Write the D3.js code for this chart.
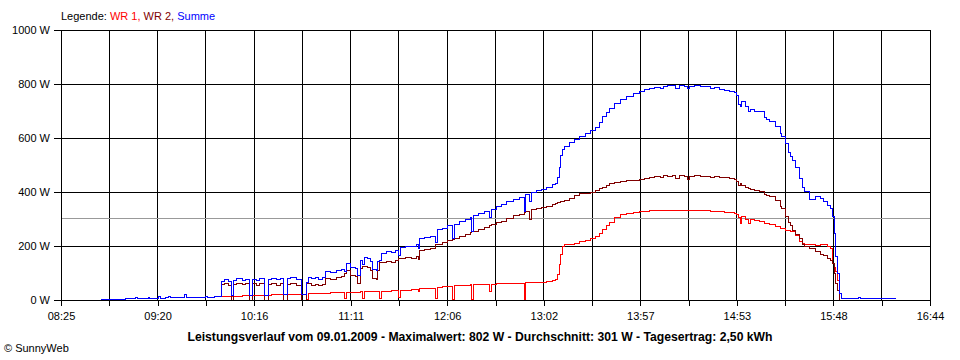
<!DOCTYPE html>
<html><head><meta charset="utf-8">
<script src="https://cdn.jsdelivr.net/npm/d3@7"></script>
<style>body{margin:0;background:#fff}svg{display:block}</style>
</head><body><svg id="c" width="960" height="360"></svg>
<script>
// ---- data ----
const times = ["08:48","08:53","08:58","09:02","09:06","09:08","09:09","09:13","09:15","09:16","09:19","09:21","09:22","09:25","09:27","09:28","09:32","09:36","09:37","09:41","09:45","09:48","09:49","09:53",
"09:57","09:59","10:01","10:03","10:04","10:06","10:09","10:11","10:13","10:15","10:17","10:19","10:22","10:24","10:26","10:29","10:31","10:33","10:35","10:37","10:40","10:43","10:46","10:47","10:49","10:51","10:53","10:55","10:57",
"11:00","11:03","11:06","11:08","11:09","11:11","11:14","11:15","11:17","11:18","11:19","11:21","11:23","11:24","11:26","11:27","11:28","11:29","11:32","11:35","11:37","11:39","11:40","11:43","11:46","11:49","11:50","11:51","11:54","11:57",
"12:00","12:01","12:04","12:07","12:10","12:11","12:14","12:17","12:20","12:21","12:22","12:25","12:28","12:31","12:32","12:35","12:38","12:41","12:45","12:48","12:51","12:52","12:54","12:55","12:58",
"13:01","13:04","13:07","13:09","13:10","13:11","13:12","13:13","13:14","13:17","13:20","13:23","13:26","13:29","13:32","13:34","13:36","13:38","13:40","13:43","13:46","13:50","13:54","13:57",
"14:00","14:03","14:06","14:09","14:11","14:13","14:16","14:18","14:20","14:23","14:25","14:26","14:29","14:32","14:35","14:38","14:40","14:43","14:46","14:49","14:52","14:53","14:54","14:55","14:56","14:58",
"15:00","15:01","15:03","15:06","15:09","15:10","15:12","15:15","15:18","15:19","15:21","15:23","15:24","15:25","15:27","15:29","15:31","15:32","15:35","15:38","15:41","15:43","15:45","15:47","15:48","15:49","15:50","15:51","15:52","15:53","15:57",
"16:00","16:03","16:04","16:08","16:10","16:14","16:18","16:22","16:24"];

const wr1 = [2,3,3,4,5,9,5,6,11,6,7,13,7,8,12,8,9,22,10,10,11,14,11,12,
12,12,13,13,14,14,15,15,16,16,17,17,18,18,19,19,20,20,21,21,22,22,3,23,23,24,24,25,25,
26,27,27,5,28,28,29,29,30,4,30,31,31,31,32,32,6,32,33,34,35,8,36,37,38,39,30,42,43,44,
6,47,49,51,2,52,54,55,56,2,57,58,58,30,59,60,61,61,62,62,3,63,64,64,65,
66,68,72,77,93,130,170,200,204,207,211,216,222,228,236,245,262,276,288,305,316,322,325,326,
328,330,331,331,332,332,333,333,333,333,332,332,332,331,330,329,328,327,325,323,321,316,305,285,308,300,
282,298,294,290,285,282,278,272,265,263,259,256,254,252,240,218,210,207,204,202,205,204,198,191,136,120,105,74,0,null,null,
null,null,null,null,null,null,null,null,null];

const wr2 = [null,null,null,null,null,null,null,null,null,null,null,null,null,null,null,null,null,null,null,null,null,null,null,null,
57,62,55,0,58,62,56,60,0,60,55,61,0,58,62,55,60,0,56,60,52,0,60,60,55,58,52,58,78,
76,82,86,100,108,92,86,60,115,125,125,122,110,80,76,110,138,140,144,140,146,154,155,158,152,160,150,182,186,190,
205,206,212,220,224,226,236,242,250,252,254,262,270,276,278,286,292,302,312,318,325,328,300,334,338,
342,348,352,356,360,362,364,366,368,376,386,393,396,399,404,412,418,424,430,434,438,441,443,447,
450,453,459,452,460,458,461,450,460,458,448,458,461,457,459,455,457,454,452,449,447,440,424,432,425,418,
412,408,405,401,390,388,383,370,348,340,309,288,275,259,242,228,205,198,190,180,170,163,155,145,136,99,62,37,0,null,null,
null,null,null,null,null,null,null,null,null];

const summe = [2,3,3,4,5,9,5,6,11,6,7,13,7,8,12,8,9,22,10,10,11,14,11,12,
69,75,68,15,73,78,71,76,17,77,73,79,18,77,81,75,80,21,78,82,75,22,63,84,79,83,77,84,104,
102,110,114,106,137,120,115,90,148,130,158,154,142,112,108,142,145,174,178,175,182,164,194,200,198,205,190,226,232,236,
212,262,266,275,228,280,290,298,305,255,312,320,328,306,336,346,354,363,373,380,328,390,365,398,404,
410,418,426,433,452,492,534,556,570,582,595,606,617,626,640,656,680,696,708,726,743,755,765,772,
778,782,788,783,792,793,796,784,794,792,782,790,795,789,790,785,786,780,777,773,770,758,725,718,734,718,
700,706,699,698,677,668,660,642,618,605,580,548,531,515,490,450,415,401,372,383,375,364,350,339,309,247,160,99,25,4,6,
4,9,5,7,4,6,5,7,4];

const yTicks = [0, 200, 400, 600, 800, 1000];
const xTickLabels = ["08:25","09:20","10:16","11:11","12:06","13:02","13:57","14:53","15:48","16:44"];
const timeStart = "08:25", timeEnd = "16:44";
const average = 301;
const legendItems = [["WR 1,", "#ff0000"], ["WR 2,", "#800000"], ["Summe", "#0000ff"]];
const title = "Leistungsverlauf vom 09.01.2009 - Maximalwert: 802 W - Durchschnitt: 301 W - Tagesertrag: 2,50 kWh";
const footer = "\u00A9 SunnyWeb";

// ---- drawing ----
const FONT = "'Liberation Sans', Arial, sans-serif";
const toMin = s => +s.slice(0, 2) * 60 + +s.slice(3, 5);
const svg = d3.select("#c");
const L = 61, R = 930, T = 30, B = 300;
const x = d3.scaleLinear().domain([toMin(timeStart), toMin(timeEnd)]).range([L, R]);
const y = d3.scaleLinear().domain([0, 1000]).range([B, T]);
const [d0, d1] = x.domain();
const gridTimes = d3.range(19).map(i => d0 + i * (d1 - d0) / 18);

const grid = svg.append("g").attr("shape-rendering", "crispEdges");
grid.selectAll("line.v").data(gridTimes).join("line")
  .attr("x1", d => x(d)).attr("x2", d => x(d)).attr("y1", T).attr("y2", B)
  .attr("stroke", "#000");
grid.selectAll("line.h").data(yTicks).join("line")
  .attr("x1", L).attr("x2", R).attr("y1", d => y(d)).attr("y2", d => y(d))
  .attr("stroke", "#000");
grid.append("line").attr("x1", L).attr("x2", R).attr("y1", y(average)).attr("y2", y(average))
  .attr("stroke", "#999");

const rows = times.map((t, i) => ({ t: toMin(t), a: wr1[i], b: wr2[i], s: summe[i] }));
const mk = key => d3.line().defined(d => d[key] != null).x(d => x(d.t)).y(d => y(d[key])).curve(d3.curveStepAfter);
const series = [["a", "#ff0000"], ["b", "#800000"], ["s", "#0000ff"]];
series.forEach(([k, c]) => {
  svg.append("path").datum(rows).attr("d", mk(k)).attr("fill", "none")
    .attr("stroke", c).attr("stroke-width", 1).attr("shape-rendering", "crispEdges");
});

// axes
const xa = svg.append("g").attr("transform", `translate(0,${B})`)
  .call(d3.axisBottom(x).tickValues(gridTimes).tickSize(6).tickSizeOuter(0).tickPadding(6)
    .tickFormat((d, i) => i % 2 === 0 ? xTickLabels[i / 2] : ""));
const ya = svg.append("g").attr("transform", `translate(${L},0)`)
  .call(d3.axisLeft(y).tickValues(yTicks).tickSize(7).tickSizeOuter(0).tickPadding(4)
    .tickFormat(d => d + " W"));
[xa, ya].forEach(g => {
  g.attr("shape-rendering", "crispEdges");
  g.selectAll("path,line").attr("stroke", "#000");
  g.selectAll("text").attr("font-family", FONT).attr("font-size", 11).attr("fill", "#000");
});

// legend
const lg = svg.append("text").attr("x", 61).attr("y", 20).attr("font-family", FONT).attr("font-size", 11);
lg.append("tspan").text("Legende: ").attr("fill", "#000");
legendItems.forEach(([t, c], i) => lg.append("tspan").text(t + (i < legendItems.length - 1 ? " " : "")).attr("fill", c));

// title
svg.append("text").attr("x", 480).attr("y", 341).attr("text-anchor", "middle")
  .attr("font-family", FONT).attr("font-size", 12).attr("font-weight", "bold")
  .attr("textLength", 585).attr("lengthAdjust", "spacingAndGlyphs").text(title);

svg.append("text").attr("x", 4).attr("y", 352).attr("font-family", FONT).attr("font-size", 11)
  .attr("fill", "#000").text(footer);
</script>
</body></html>
